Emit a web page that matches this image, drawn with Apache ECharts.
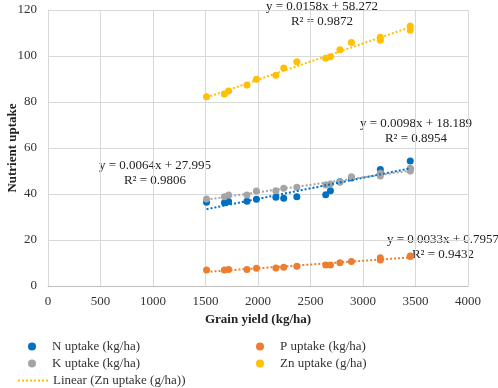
<!DOCTYPE html>
<html>
<head>
<meta charset="utf-8">
<script src="https://cdn.jsdelivr.net/npm/echarts@6/dist/echarts.min.js"></script>
<style>
  html, body { margin: 0; padding: 0; background: #fff; }
  #chart { width: 498px; height: 388px; }
</style>
</head>
<body>
<div id="chart"></div>
<script>
  // grain yield (kg/ha) for each plot
  var grainYield = [1510, 1680, 1720, 1895, 1985, 2170, 2245, 2370, 2645, 2690, 2780, 2890, 3165, 3165, 3450, 3450];
  var nUptake = [36.4, 36.2, 36.7, 36.8, 37.7, 38.6, 38.1, 38.8, 39.7, 41.4, 45.3, 47.0, 50.6, 49.0, 54.3, 51.0];
  var kUptake = [37.8, 38.8, 39.6, 39.6, 41.3, 41.4, 42.5, 42.9, 43.9, 44.3, 45.1, 47.5, 49.0, 47.8, 51.2, 50.0];
  var pUptake = [7.0, 7.0, 7.2, 7.2, 7.7, 7.8, 8.1, 8.6, 9.1, 9.1, 10.1, 10.6, 12.3, 11.3, 13.0, 12.8];
  var znUptake = [82.3, 83.5, 84.8, 87.4, 89.9, 91.6, 94.8, 97.5, 99.0, 99.7, 102.7, 105.9, 108.1, 106.8, 113.0, 111.2];

  var seriesNames = ['N uptake (kg/ha)', 'K uptake (kg/ha)', 'P uptake (kg/ha)', 'Zn uptake (g/ha)'];
  var seriesColors = ['#0070C0', '#A5A5A5', '#ED7D31', '#FFC000'];
  var equations = [
    ['y = 0.0098x + 18.189', 'R\u00b2 = 0.8954'],
    ['y = 0.0064x + 27.995', 'R\u00b2 = 0.9806'],
    ['y = 0.0033x + 0.7957', 'R\u00b2 = 0.9432'],
    ['y = 0.0158x + 58.272', 'R\u00b2 = 0.9872']
  ];
  var xTicks = [0, 500, 1000, 1500, 2000, 2500, 3000, 3500, 4000];
  var yTicks = [0, 20, 40, 60, 80, 100, 120];

  var FONT = '"Liberation Serif", "Times New Roman", serif';
  var ZN_TREND = 'Linear (Zn uptake (g/ha))';

  function pairs(ys) {
    return grainYield.map(function (x, i) { return [x, ys[i]]; });
  }

  // least squares line, ends at the data range like the excel trendline
  function trend(ys) {
    var n = grainYield.length, sx = 0, sy = 0, sxx = 0, sxy = 0;
    for (var i = 0; i < n; i++) {
      sx += grainYield[i]; sy += ys[i];
      sxx += grainYield[i] * grainYield[i]; sxy += grainYield[i] * ys[i];
    }
    var b = (n * sxy - sx * sy) / (n * sxx - sx * sx);
    var a = (sy - b * sx) / n;
    var x0 = Math.min.apply(null, grainYield), x1 = Math.max.apply(null, grainYield);
    return [[x0, a + b * x0], [x1, a + b * x1]];
  }

  var allY = [nUptake, kUptake, pUptake, znUptake];
  var series = [];
  allY.forEach(function (ys, i) {
    series.push({
      name: seriesNames[i],
      type: 'scatter',
      data: pairs(ys),
      symbolSize: 7,
      itemStyle: { color: seriesColors[i], opacity: 1 },
      z: 2
    });
  });
  allY.forEach(function (ys, i) {
    series.push({
      name: i === 3 ? ZN_TREND : 'Linear ' + seriesNames[i],
      type: 'line',
      data: trend(ys),
      symbol: 'none',
      showSymbol: false,
      silent: true,
      lineStyle: { color: seriesColors[i], width: 2, type: [2, 2] },
      itemStyle: { color: seriesColors[i] },
      z: 3
    });
  });

  // equation labels
  var eqPos = [[416, 123], [155, 165], [443, 239], [322, 6]];
  var graphics = equations.map(function (eq, i) {
    return {
      type: 'text',
      x: eqPos[i][0], y: eqPos[i][1] - 7,
      style: { text: eq[0] + '\n' + eq[1], font: '13px ' + FONT, fill: '#222', align: 'center', lineHeight: 15 }
    };
  });

  var legendText = { fontFamily: FONT, fontSize: 13, color: '#333', padding: [0, 0, 0, 11] };

  var option = {
    animation: false,
    backgroundColor: '#fff',
    grid: { left: 48, right: 30, top: 10, bottom: 102, containLabel: false, outerBoundsMode: 'none' },
    xAxis: {
      type: 'value', min: xTicks[0], max: xTicks[xTicks.length - 1], interval: 500,
      name: 'Grain yield (kg/ha)', nameLocation: 'middle', nameGap: 27, nameMoveOverlap: false,
      nameTextStyle: { fontFamily: FONT, fontSize: 13, fontWeight: 'bold', color: '#222' },
      axisLine: { lineStyle: { color: '#bfbfbf' } },
      axisTick: { show: false },
      axisLabel: { fontFamily: FONT, fontSize: 13, color: '#333', margin: 9, formatter: function (v) { return String(v); } },
      splitLine: { show: true, lineStyle: { color: '#d9d9d9' } }
    },
    yAxis: {
      type: 'value', min: yTicks[0], max: yTicks[yTicks.length - 1], interval: 20,
      name: 'Nutrient uptake', nameLocation: 'middle', nameGap: 29, nameMoveOverlap: false,
      nameTextStyle: { fontFamily: FONT, fontSize: 13, fontWeight: 'bold', color: '#222' },
      axisLine: { show: true, lineStyle: { color: '#d9d9d9' } },
      axisTick: { show: false },
      axisLabel: { fontFamily: FONT, fontSize: 13, color: '#333', margin: 11, formatter: function (v) { return String(v); } },
      splitLine: { show: true, lineStyle: { color: '#d9d9d9' } }
    },
    legend: [
      {
        data: [seriesNames[0], seriesNames[1]], orient: 'vertical', left: 23, top: 335, padding: 5,
        itemWidth: 8, itemHeight: 8, itemGap: 4, icon: 'circle', textStyle: legendText
      },
      {
        data: [seriesNames[2], seriesNames[3]], orient: 'vertical', left: 251, top: 335, padding: 5,
        itemWidth: 8, itemHeight: 8, itemGap: 4, icon: 'circle', textStyle: legendText
      },
      {
        data: [ZN_TREND], left: 12, top: 369, padding: 5,
        itemWidth: 30, itemHeight: 10, itemStyle: { opacity: 0 },
        textStyle: { fontFamily: FONT, fontSize: 13, color: '#333' }
      }
    ],
    graphic: graphics,
    series: series
  };

  var myChart = echarts.init(document.getElementById('chart'));
  myChart.setOption(option);
</script>
</body>
</html>
